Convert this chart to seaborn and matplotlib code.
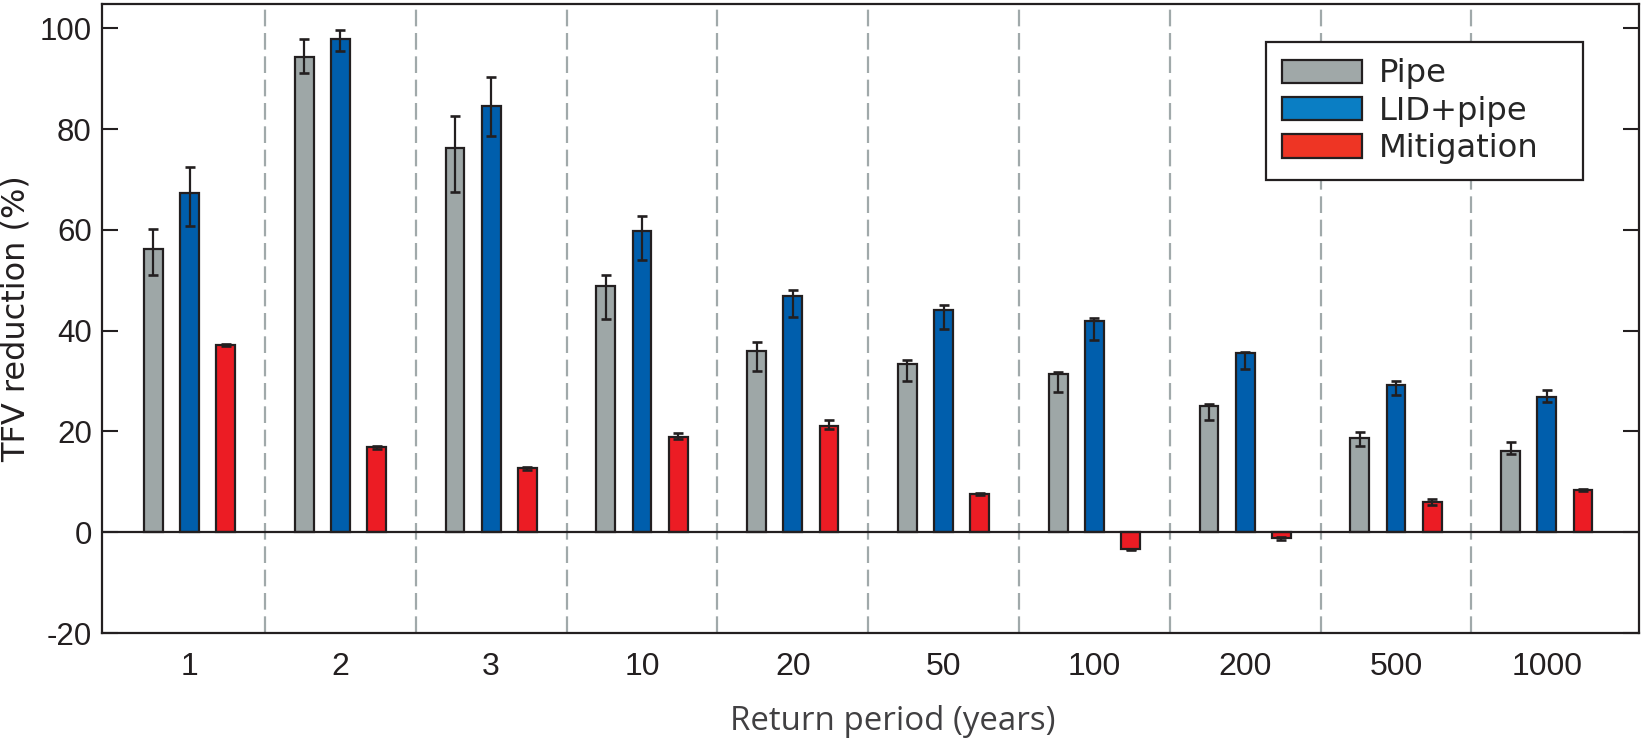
import numpy as np
import pandas as pd
import seaborn as sns
import matplotlib
matplotlib.use("Agg")
import matplotlib.pyplot as plt
from matplotlib.patches import Patch

# ---------------- data ----------------
periods = ["1", "2", "3", "10", "20", "50", "100", "200", "500", "1000"]
series = ["Pipe", "LID+pipe", "Mitigation"]

pipe = [56.1, 94.2, 76.2, 48.8, 35.9, 33.4, 31.3, 25.0, 18.6, 16.2]
pipe_hi = [60.1, 97.9, 82.6, 51.1, 37.7, 34.2, 31.7, 25.4, 19.9, 17.9]
pipe_lo = [51.0, 91.1, 67.5, 42.4, 32.0, 30.0, 27.8, 22.3, 17.2, 15.6]

lid = [67.4, 97.9, 84.6, 59.7, 46.9, 44.1, 42.0, 35.6, 29.2, 26.9]
lid_hi = [72.5, 99.7, 90.3, 62.7, 48.1, 45.0, 42.6, 35.8, 30.1, 28.2]
lid_lo = [60.7, 95.4, 78.7, 54.0, 42.7, 40.3, 38.2, 32.3, 27.3, 25.9]

mitig = [37.1, 16.9, 12.7, 18.9, 21.1, 7.6, -3.4, -1.1, 5.9, 8.4]
mitig_hi = [37.3, 17.2, 13.0, 19.7, 22.3, 7.8, -3.3, -0.9, 6.5, 8.6]
mitig_lo = [36.9, 16.6, 12.4, 18.4, 20.5, 7.4, -3.5, -1.6, 5.5, 8.2]

bar_colors = {"Pipe": "#9EA7A7", "LID+pipe": "#005EAC", "Mitigation": "#EC1C24"}
legend_colors = {"Pipe": "#A0A8A8", "LID+pipe": "#0A7EC4", "Mitigation": "#EE3524"}

values = {"Pipe": pipe, "LID+pipe": lid, "Mitigation": mitig}
highs = {"Pipe": pipe_hi, "LID+pipe": lid_hi, "Mitigation": mitig_hi}
lows = {"Pipe": pipe_lo, "LID+pipe": lid_lo, "Mitigation": mitig_lo}

df = pd.DataFrame(
    [(p, s, v) for s in series for p, v in zip(periods, values[s])],
    columns=["period", "series", "value"],
)

# ---------------- figure ----------------
sns.set_theme(style="white")
plt.rcParams["font.family"] = ["Liberation Sans", "DejaVu Sans"]
plt.rcParams["axes.unicode_minus"] = False

fig = plt.figure(figsize=(16.41, 7.41), dpi=100)
ax = fig.add_axes([0.0619, 0.1457, 0.9988 - 0.0619, 0.9946 - 0.1457])

edge = "#231F20"
sns.barplot(
    data=df, x="period", y="value", hue="series", order=periods,
    hue_order=series, palette=bar_colors, errorbar=None,
    width=0.72, gap=0.48, edgecolor=edge, linewidth=1.6,
    saturation=1, ax=ax, legend=False, zorder=3,
)

# error bars
for cont, s in zip(ax.containers, series):
    xs = [b.get_x() + b.get_width() / 2 for b in cont]
    v = np.array(values[s])
    lo = v - np.array(lows[s])
    hi = np.array(highs[s]) - v
    ax.errorbar(xs, v, yerr=[np.clip(lo, 0, None), np.clip(hi, 0, None)],
                fmt="none", ecolor=edge, elinewidth=1.6, capsize=3.4,
                capthick=1.9, zorder=4)

# separators
for i in range(len(periods) - 1):
    ax.axvline(i + 0.5, color="#A0A9AA", lw=1.6, dashes=(7.5, 3), zorder=1)

ax.axhline(0, color=edge, lw=1.6, zorder=5)

ax.set_xlim(-0.583, 9.611)
ax.set_ylim(-20, 104.8)
ax.set_yticks(np.arange(-20, 101, 20))
ax.tick_params(axis="y", direction="in", length=11.5, width=1.5, color=edge,
               labelsize=22.5, pad=7, right=True, left=True, labelcolor="#231F20")
ax.tick_params(axis="x", length=0, pad=14, labelcolor="#231F20", labelsize=23)

for sp in ax.spines.values():
    sp.set_visible(True)
    sp.set_color(edge)
    sp.set_linewidth(1.6)

ax.set_ylabel("TFV reduction (%)", fontsize=23, color="#231F20",
              fontfamily=["DejaVu Sans"])
ax.yaxis.set_label_coords(-0.0455, 0.5)
ax.set_xlabel("Return period (years)", fontsize=23.8, color="#414042",
              fontfamily=["Open Sans", "DejaVu Sans"])
ax.xaxis.set_label_coords(0.5145, -0.114)

handles = [Patch(facecolor=legend_colors[s], edgecolor=edge, linewidth=1.6) for s in series]
leg_x0 = 0.7575
leg_x1 = 0.9636
leg_top = 0.939
leg = ax.legend(handles, series, loc="upper left",
                bbox_to_anchor=(leg_x0, leg_top - 0.3, leg_x1 - leg_x0, 0.3),
                mode="expand", borderaxespad=0,
                prop={"family": ["DejaVu Sans"], "size": 23.2},
                frameon=True, fancybox=False,
                handlelength=2.46, handleheight=0.74, labelspacing=0.2,
                handletextpad=0.55, borderpad=0.5)
leg.get_frame().set_edgecolor(edge)
leg.get_frame().set_linewidth(1.6)
leg.get_frame().set_alpha(1)
leg.set_zorder(10)

fig.savefig("out.png", dpi=100)
